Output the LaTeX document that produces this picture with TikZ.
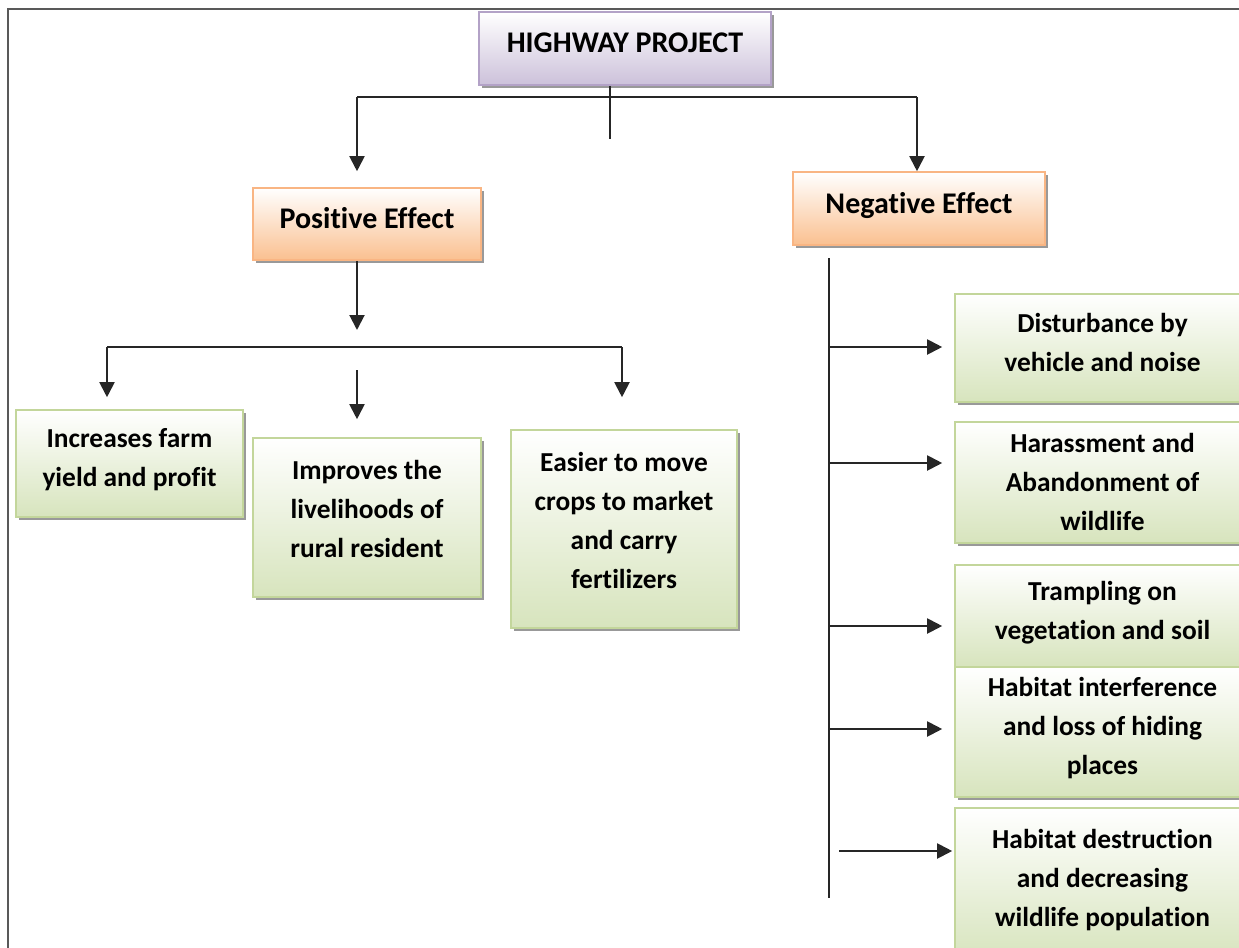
\documentclass[tikz,border=0pt]{standalone}
\usepackage{fontspec}
\setmainfont{Carlito}[Ligatures=NoCommon]
\usetikzlibrary{arrows.meta,shadows}
\definecolor{greenfill}{HTML}{D7E4BD}
\definecolor{greenline}{HTML}{C3D69B}
\definecolor{orangefill}{HTML}{FAC090}
\definecolor{orangeline}{HTML}{F9B583}
\definecolor{purplefill}{HTML}{CCC1DA}
\definecolor{purpleline}{HTML}{B3A2C7}
\definecolor{linegray}{HTML}{262626}
\begin{document}
\begin{tikzpicture}[x=0.5pt, y=-0.5pt,
	box/.style={rectangle, draw, line width=0.8pt, align=center, text depth=6pt, inner sep=2pt, drop shadow={shadow xshift=1.5pt, shadow yshift=-1.5pt, fill=black!40, opacity=1}},
	top style/.style={box, draw=purpleline, top color=white, bottom color=purplefill, font=\fontsize{15}{19.5}\selectfont\bfseries},
	effect style/.style={box, draw=orangeline, top color=white, bottom color=orangefill, font=\fontsize{15}{19.5}\selectfont\bfseries},
	item style/.style={box, draw=greenline, top color=white, bottom color=greenfill, font=\fontsize{13.7}{19.5}\selectfont\bfseries},
	wire/.style={linegray, line width=1pt},
	arr/.style={wire, -{Triangle[width=7.5pt,length=7.5pt]}}]
	\path[use as bounding box, clip] (0,0) rectangle (1239,948);
	\draw[wire, black!65] (8,948) -- (8,9) -- (1239,9);
	\node[top style, minimum width=146pt, minimum height=36.5pt] (H) at (625,48.5) {HIGHWAY PROJECT};
	\node[effect style, minimum width=114pt, minimum height=36pt] (E1) at (367,224) {Positive Effect};
	\node[effect style, minimum width=126pt, minimum height=36.5pt] (E2) at (919,208.5) {Negative Effect};
	\node[item style, minimum width=113.5pt, minimum height=53.5pt] (P1) at (129.5,463.5) {Increases farm\\yield and profit};
	\node[item style, minimum width=114pt, minimum height=79.5pt, text depth=9pt] (P2) at (367,517.5) {Improves the\\livelihoods of\\rural resident};
	\node[item style, minimum width=113pt, minimum height=99pt, text depth=9pt] (P3) at (624,529) {Easier to move\\crops to market\\and carry\\fertilizers};
	\node[item style, minimum width=147.5pt, minimum height=54pt] (N1) at (1102.5,348) {Disturbance by\\vehicle and noise};
	\node[item style, minimum width=147.5pt, minimum height=60.5pt, text depth=1pt] (N2) at (1102.5,482.5) {Harassment and\\Abandonment of\\wildlife};
	\node[item style, minimum width=147.5pt, minimum height=51pt] (N3) at (1102.5,616) {Trampling on\\vegetation and soil};
	\node[item style, minimum width=147.5pt, minimum height=65pt] (N4) at (1102.5,732) {Habitat interference\\and loss of hiding\\places};
	\node[item style, minimum width=147.5pt, minimum height=76pt] (N5) at (1102.5,884) {Habitat destruction\\and decreasing\\wildlife population};
	% project to effects
	\coordinate (stem) at (610,139);
	\coordinate (hl) at (357,97);
	\coordinate (hr) at (917,97);
	\draw[wire] (H.south -| stem) -- (stem);
	\draw[wire] (hl) -- (hr);
	\draw[arr, shorten >=8pt] (hl) -- (E1.north -| hl);
	\draw[arr] (hr) -- (E2.north -| hr);
	% positive side
	\coordinate (ptip) at (357,330);
	\coordinate (bl) at (107,347);
	\coordinate (br) at (622,347);
	\coordinate (bm) at (357,370);
	\draw[arr] (E1.south -| ptip) -- (ptip);
	\draw[wire] (bl) -- (br);
	\draw[arr, shorten >=6pt] (bl) -- (P1.north -| bl);
	\draw[arr, shorten >=9pt] (bm) -- (P2.north -| bm);
	\draw[arr, shorten >=16pt] (br) -- (P3.north -| br);
	% negative side
	\coordinate (nt) at (829,258);
	\coordinate (nb) at (829,898);
	\coordinate (n5) at (839,851);
	\draw[wire] (nt) -- (nb);
	\foreach \n/\y in {N1/347,N2/463,N3/626,N4/729}
	\draw[arr, shorten >=6pt] (nt |- 0,\y) -- (\n.west |- 0,\y);
	\draw[arr, shorten >=1pt] (n5) -- (N5.west |- n5);
\end{tikzpicture}
\end{document}
